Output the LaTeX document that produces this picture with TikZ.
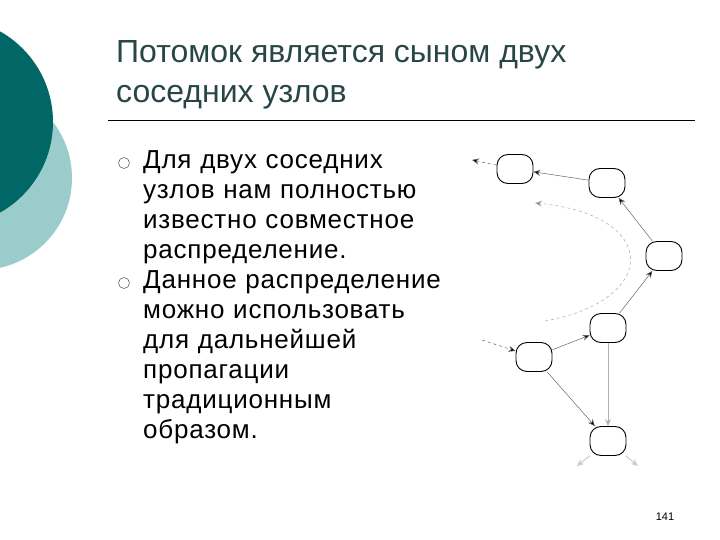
\documentclass[tikz,border=0pt]{standalone}
\usepackage{fontspec}
\setmainfont{Liberation Sans}
\usetikzlibrary{arrows.meta}
\definecolor{dteal}{RGB}{0,102,102}
\definecolor{lteal}{RGB}{155,204,204}
\definecolor{ttl}{RGB}{40,70,70}
\tikzset{
  st/.style={draw,line width=0.9pt,rounded corners=11pt,minimum width=36pt,minimum height=29pt,inner sep=0pt},
  ar/.style={draw=gray!80!black,line width=0.5pt,-{Stealth[length=7pt,width=6pt,fill=black]}},
  dar/.style={ar,dashed},
  gar/.style={draw=gray!60,line width=1pt,-{Stealth[length=7pt,width=6pt,fill=gray]}},
  bl/.style={anchor=north west,align=left,font=\addfontfeatures{LetterSpace=3}\fontsize{26}{30}\selectfont,text width=340pt,inner sep=0pt},
  bul/.style={circle,draw=gray!80!black,line width=0.6pt,minimum size=11pt,inner sep=0pt}
}
\begin{document}
\begin{tikzpicture}[x=1pt,y=-1pt]
\useasboundingbox (0,0) rectangle (720,540);
\fill[lteal] (-20,178) circle (92);
\fill[dteal] (-51,122) circle (104);
\node[anchor=west,align=left,text=ttl,font=\fontsize{32}{40}\selectfont,inner sep=0pt] (title) at (116,75) {Потомок является сыном двух\\соседних узлов};
\draw[line width=0.8pt] (108,120) -- (695,120);
\node[bl] (b1) at (143,150) {Для двух соседних\\узлов нам полностью\\известно совместное\\распределение.\\Данное распределение\\можно использовать\\для дальнейшей\\пропагации\\традиционным\\образом.};
\node[bul] (m1) at (124,163) {};
\node[bul] (m2) at (124,283) {};
\node[font=\fontsize{11}{12}\selectfont] (pg) at (665,517) {141};
\node[st] (n1) at (515,169) {};
\node[st] (n2) at (607,183) {};
\node[st] (n3) at (664,256) {};
\node[st] (n4) at (608,328) {};
\node[st] (n5) at (534,357) {};
\node[st] (n6) at (608,441) {};
\coordinate (c1) at (472,160);
\coordinate (c2) at (482,340);
\coordinate (c3) at (545,321);
\coordinate (c4) at (535,203);
\coordinate (c5) at (577,466);
\coordinate (c6) at (638,466);
\draw[dar] (n1) -- (c1);
\draw[dar] (c2) -- (n5);
\draw[ar] (n2) -- (n1);
\draw[ar] (n3) -- (n2);
\draw[ar] (n4) -- (n3);
\draw[ar] (n5) -- (n4);
\draw[ar] (n5) -- (n6);
\draw[gar] (n4) -- (n6);
\draw[dashed,draw=gray!60,line width=0.6pt,-{Stealth[length=7pt,width=6pt,fill=gray]}] (c3) .. controls (660,300) and (660,215) .. (c4);
\draw[gar,draw=gray!40] (n6) -- (c5);
\draw[gar,draw=gray!40] (n6) -- (c6);
\end{tikzpicture}
\end{document}
